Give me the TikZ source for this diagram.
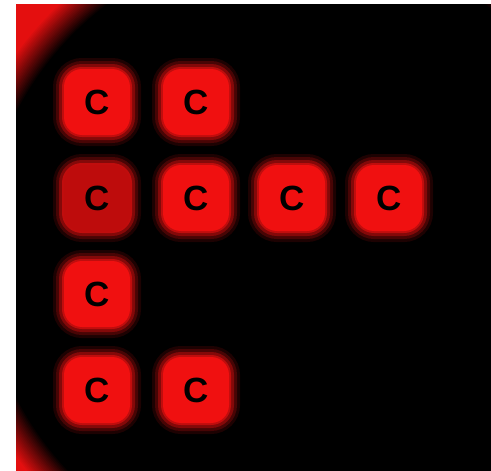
\documentclass[tikz,border=0pt]{standalone}
\usepackage{fontspec}
\setmainfont{Liberation Sans}
\definecolor{cellred}{RGB}{240,16,16}
\definecolor{dimred}{RGB}{190,12,12}
\begin{document}
\begin{tikzpicture}[x=1pt, y=-1pt,
    cell/.style={fill=cellred, rounded corners=18pt, minimum size=66pt, inner sep=0pt,
        font=\fontsize{35}{35}\selectfont\bfseries,
        preaction={draw=cellred!12!black, line width=22pt},
        preaction={draw=cellred!30!black, line width=16pt},
        preaction={draw=cellred!55!black, line width=10pt},
        preaction={draw=cellred!80!black, line width=4pt}}]
    \useasboundingbox (0,0) rectangle (491,471);

    % Background with red glow in the corners
    \begin{scope}
        \clip (16,4) rectangle (491,471);
        \fill[cellred!95!black] (16,4) rectangle (491,471);
        \foreach \k in {0,...,20} {
            \pgfmathsetmacro\rad{346-1.6*\k}
            \pgfmathsetmacro\pct{95*(1-\k/20)}
            \fill[cellred!\pct!black] (296,255) circle (\rad pt);
        }
    \end{scope}

    % Cells
    \node[cell] (c11) at (97,102) {C};
    \node[cell] (c12) at (196,102) {C};
    \node[cell, fill=dimred] (c21) at (97,198) {C};
    \node[cell] (c22) at (196,198) {C};
    \node[cell] (c23) at (292,198) {C};
    \node[cell] (c24) at (389,198) {C};
    \node[cell] (c31) at (97,294) {C};
    \node[cell] (c41) at (97,390) {C};
    \node[cell] (c42) at (196,390) {C};
\end{tikzpicture}
\end{document}
